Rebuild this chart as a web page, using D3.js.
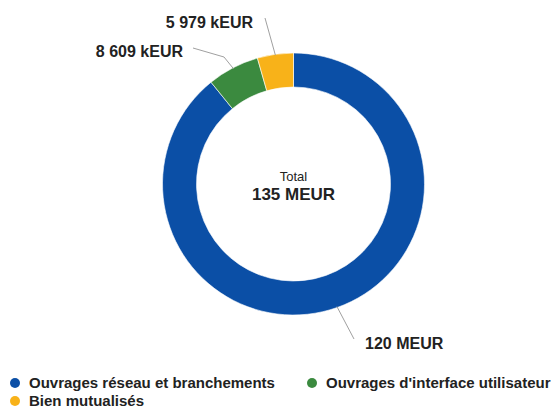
<!DOCTYPE html>
<html>
<head>
<meta charset="utf-8">
<script src="https://cdn.jsdelivr.net/npm/d3@7"></script>
<style>
  body { margin: 0; background: #fff; }
  svg { display: block; font-family: "Liberation Sans", Arial, sans-serif; }
</style>
</head>
<body>
<svg id="chart" width="557" height="407"></svg>
<script>
// values in kEUR, clockwise from 12 o'clock
const categories = ["Ouvrages réseau et branchements", "Ouvrages d'interface utilisateur", "Bien mutualisés"];
const values = [120000, 8609, 5979];
const valueLabels = ["120 MEUR", "8 609 kEUR", "5 979 kEUR"];
const colors = ["#0b4fa6", "#3b8a3f", "#f8b219"];
const totalLabel = "135 MEUR";

const svg = d3.select("#chart");
const cx = 293.5, cy = 184;
const outerR = 131, innerR = 97;

const pie = d3.pie().sort(null).value(d => d);
const arcs = pie(values);
const arc = d3.arc().innerRadius(innerR).outerRadius(outerR);

const g = svg.append("g").attr("transform", `translate(${cx},${cy})`);

g.selectAll("path")
  .data(arcs)
  .enter().append("path")
  .attr("d", arc)
  .attr("fill", (d, i) => colors[i])
  .attr("stroke", "#fff")
  .attr("stroke-width", 0.6);

// center text
g.append("text").attr("text-anchor", "middle").attr("y", -3)
  .attr("font-size", 13).attr("fill", "#222").text("Total");
g.append("text").attr("text-anchor", "middle").attr("y", 16)
  .attr("font-size", 17).attr("font-weight", "bold").attr("fill", "#222").text(totalLabel);

// leader lines + labels, position per slice (label side)
const labelPos = [
  { lineEnd: [354, 339], text: [365, 349], anchor: "start" },
  { lineEnd: [193, 48], text: [183, 57], anchor: "end" },
  { lineEnd: [265, 18], text: [253, 28], anchor: "end" }
];
// kink for the green label
const kinks = [null, [224, 57], null];

arcs.forEach((a, i) => {
  const mid = (a.startAngle + a.endAngle) / 2;
  const r = outerR - 1;
  const sx = cx + Math.sin(mid) * r;
  const sy = cy - Math.cos(mid) * r;
  const pts = [[sx, sy]];
  if (kinks[i]) pts.push(kinks[i]);
  pts.push(labelPos[i].lineEnd);
  svg.append("path")
    .attr("d", d3.line()(pts))
    .attr("fill", "none")
    .attr("stroke", "#a0a0a0")
    .attr("stroke-width", 1);
  svg.append("text")
    .attr("x", labelPos[i].text[0])
    .attr("y", labelPos[i].text[1])
    .attr("text-anchor", labelPos[i].anchor)
    .attr("font-size", 16)
    .attr("font-weight", "bold")
    .attr("fill", "#222")
    .text(valueLabels[i]);
});

// legend
const legendItems = [
  { x: 15, y: 383 },
  { x: 312, y: 383 },
  { x: 15, y: 401 }
];
categories.forEach((c, i) => {
  const it = legendItems[i];
  svg.append("circle").attr("cx", it.x).attr("cy", it.y).attr("r", 5).attr("fill", colors[i]);
  svg.append("text")
    .attr("x", it.x + 14)
    .attr("y", it.y + 5)
    .attr("font-size", 15)
    .attr("font-weight", "bold")
    .attr("fill", "#222")
    .text(c);
});
</script>
</body>
</html>
